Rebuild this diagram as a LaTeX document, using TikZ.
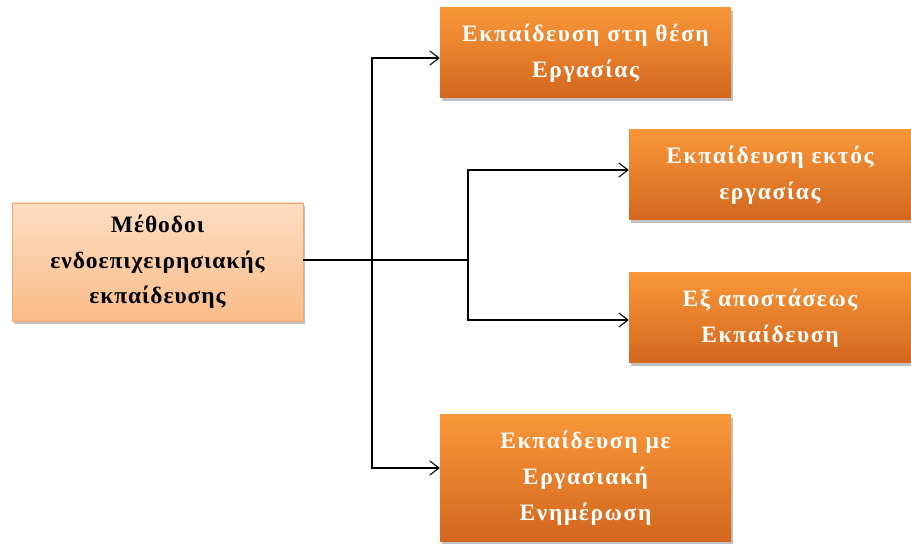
\documentclass[tikz,border=0pt]{standalone}
\usepackage{fontspec}
\setmainfont{Liberation Serif}
\newfontfamily\boxfont[LetterSpace=7]{Liberation Serif}
\newfontfamily\rootfont[LetterSpace=4]{Liberation Serif}
\usetikzlibrary{arrows.meta,shadows}
\definecolor{ortop}{RGB}{249,150,56}
\definecolor{orbot}{RGB}{211,103,30}
\definecolor{lttop}{RGB}{253,221,194}
\definecolor{ltbot}{RGB}{249,188,136}
\definecolor{ltedge}{RGB}{243,168,105}
\tikzset{
  boxshadow/.style={drop shadow={shadow xshift=2pt,shadow yshift=-3pt,opacity=0.35,fill=black!70}},
  leafbox/.style={boxshadow,top color=ortop,bottom color=orbot,draw=none,
    align=center,text=white,inner sep=0pt,
    font=\boxfont\bfseries\fontsize{23.5}{36}\selectfont},
  rootbox/.style={boxshadow,top color=lttop,bottom color=ltbot,draw=ltedge,line width=0.8pt,
    align=center,text=black,inner sep=0pt,
    font=\rootfont\bfseries\fontsize{23.5}{35.5}\selectfont},
  conn/.style={line width=1.1pt,draw=black},
  arr/.style={conn,-{Straight Barb[length=9pt,width=14pt,line width=1.1pt]}}
}
\begin{document}
\begin{tikzpicture}[x=1pt,y=-1pt]
\useasboundingbox (0,0) rectangle (911,545);
\node[rootbox,minimum width=291pt,minimum height=118pt,text width=285pt] (m) at (157.5,262)
  {Μέθοδοι\\ενδοεπιχειρησιακής\\εκπαίδευσης};
\node[leafbox,minimum width=291pt,minimum height=90pt,text width=280pt] (b1) at (585.5,53)
  {Εκπαίδευση στη θέση\\Εργασίας};
\node[leafbox,minimum width=282pt,minimum height=90pt,text width=270pt] (b2) at (770,175)
  {Εκπαίδευση εκτός\\εργασίας};
\node[leafbox,minimum width=282pt,minimum height=90pt,text width=270pt] (b3) at (770,318)
  {Εξ αποστάσεως\\Εκπαίδευση};
\node[leafbox,minimum width=291pt,minimum height=126pt,text width=280pt] (b4) at (585.5,478)
  {Εκπαίδευση με\\Εργασιακή\\Ενημέρωση};
\coordinate (j1) at (372,260);
\coordinate (j2) at (468,260);
\draw[conn] (m.east |- j1) -- (j2);
\draw[arr] (j1) |- ([yshift=-5pt]b1.west);
\draw[arr] (j1) |- ([yshift=10pt]b4.west);
\draw[arr] (j2) |- ([yshift=5pt]b2.west);
\draw[arr] (j2) |- ([yshift=-2pt]b3.west);
\end{tikzpicture}
\end{document}
